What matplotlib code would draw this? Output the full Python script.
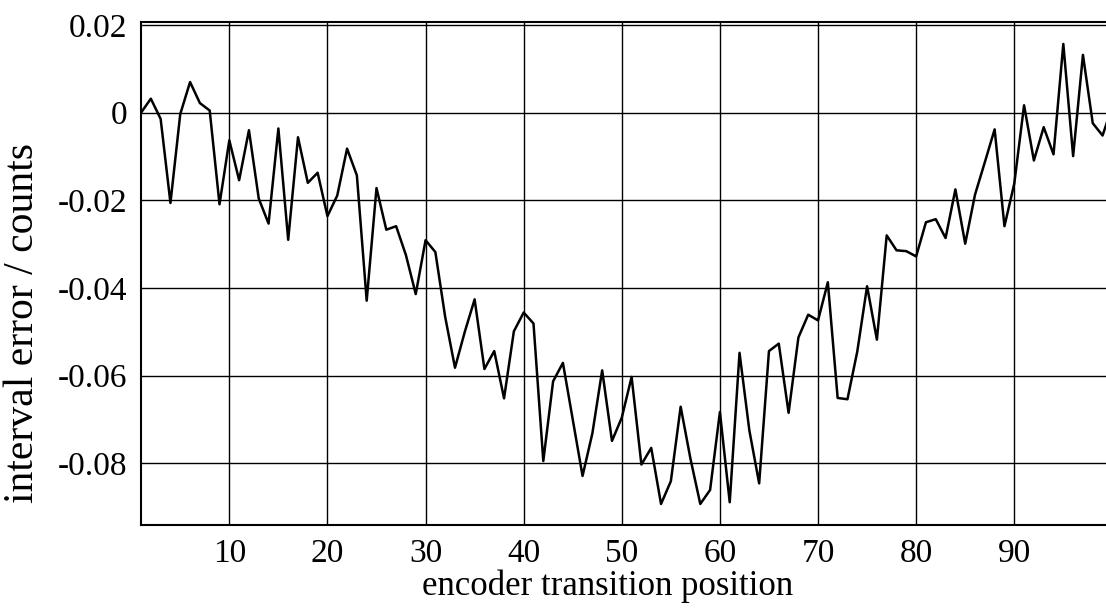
import numpy as np
import matplotlib.pyplot as plt
from matplotlib import rcParams

rcParams.update({'font.family': ['Liberation Serif', 'DejaVu Serif'],
                 'font.size': 24,
                 'axes.unicode_minus': False,
                 'axes.axisbelow': True})

# encoder transition position 1..100
position = np.arange(1, 101)

interval_error = [
    0.0000, 0.0032, -0.0014, -0.0206, -0.0003, 0.0070, 0.0022, 0.0005, -0.0209, -0.0063,
    -0.0154, -0.0040, -0.0196, -0.0253, -0.0036, -0.0290, -0.0056, -0.0160, -0.0137, -0.0236,
    -0.0189, -0.0082, -0.0143, -0.0429, -0.0172, -0.0267, -0.0259, -0.0325, -0.0414, -0.0291,
    -0.0318, -0.0466, -0.0582, -0.0500, -0.0426, -0.0585, -0.0544, -0.0652, -0.0499, -0.0456,
    -0.0481, -0.0795, -0.0613, -0.0571, -0.0700, -0.0829, -0.0732, -0.0588, -0.0749, -0.0696,
    -0.0603, -0.0803, -0.0765, -0.0893, -0.0841, -0.0671, -0.0790, -0.0893, -0.0861, -0.0683,
    -0.0889, -0.0548, -0.0725, -0.0846, -0.0544, -0.0527, -0.0685, -0.0513, -0.0461, -0.0474,
    -0.0387, -0.0651, -0.0654, -0.0545, -0.0396, -0.0518, -0.0280, -0.0314, -0.0316, -0.0328,
    -0.0250, -0.0243, -0.0286, -0.0175, -0.0299, -0.0187, -0.0113, -0.0038, -0.0259, -0.0162,
    0.0017, -0.0109, -0.0033, -0.0095, 0.0157, -0.0099, 0.0132, -0.0024, -0.0052, 0.0015,
]

xticks = [10, 20, 30, 40, 50, 60, 70, 80, 90]
yticks = [0.02, 0, -0.02, -0.04, -0.06, -0.08]
ytick_labels = ['0.02', '0', '-0.02', '-0.04', '-0.06', '-0.08']

FIG = plt.figure(figsize=(11.06, 6.08), dpi=100)
ax = FIG.add_axes([0.1275, 0.1365, 0.8725, 0.828])

ax.plot(position, interval_error, color='black', lw=1.8)

ax.set_xlim(1, 99.35)
ax.set_ylim(-0.0941, 0.0208)
ax.set_xticks(xticks)
ax.set_xticklabels([str(t) for t in xticks])
ax.set_yticks(yticks)
ax.set_yticklabels(ytick_labels)
ax.tick_params(length=0, pad=10)

ax.grid(True, color='black', lw=1.0)
for side in ['left', 'bottom', 'top']:
    ax.spines[side].set_linewidth(1.5)
ax.spines['right'].set_visible(False)

ax.set_xlabel('encoder transition position', fontsize=25)
ax.xaxis.set_label_coords(0.483, -0.088)
ax.set_ylabel('interval error / counts', fontsize=30)
ax.yaxis.set_label_coords(-0.103, 0.401)

plt.savefig('out.png', dpi=100)
